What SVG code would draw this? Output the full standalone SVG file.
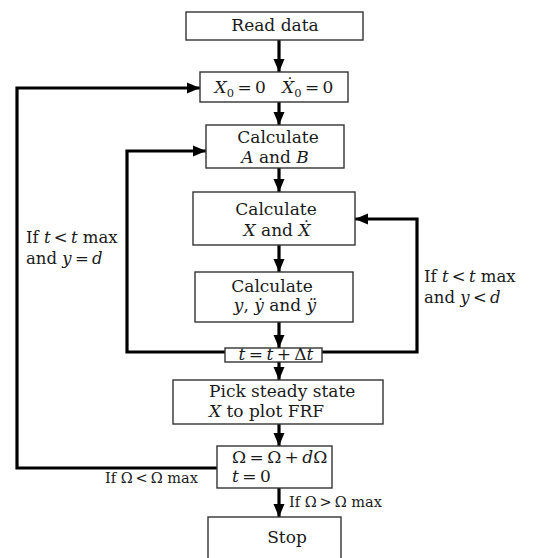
<svg xmlns="http://www.w3.org/2000/svg" width="542" height="558" viewBox="0 0 542 558">
<defs>
<marker id="ah" markerUnits="userSpaceOnUse" markerWidth="14" markerHeight="14" viewBox="0 0 14 14" refX="13" refY="7" orient="auto">
<path d="M0,1.5 L13,7 L0,12.5 Z" fill="#000"/>
</marker>
<style>
.box{fill:#fff;stroke:#333;stroke-width:1.4}
.c{fill:none;stroke:#000;stroke-width:3.2;stroke-linejoin:miter}
.a{marker-end:url(#ah)}
text{font-family:"DejaVu Serif","Liberation Serif",serif;font-size:17px;fill:#1a1a1a}
.m{text-anchor:middle}
.i{font-style:italic}
.lab{font-size:16.5px}
.sm{font-size:14.5px}
.sub{font-size:11.5px}
</style>
</defs>
<rect width="542" height="558" fill="#fff"/>
<g id="connectors">
<path class="c a" d="M279,40 V72"/>
<path class="c a" d="M279,102 V125"/>
<path class="c a" d="M279,168 V192"/>
<path class="c a" d="M279,245 V272"/>
<path class="c a" d="M279,322 V348"/>
<path class="c a" d="M279,362 V380"/>
<path class="c a" d="M279,424 V446"/>
<path class="c a" d="M279,488 V517"/>
<path class="c a" d="M217,468 H17 V88 H200"/>
<path class="c a" d="M225,352 H127 V151 H206"/>
<path class="c a" d="M322,352 H417 V219 H355"/>
</g>
<g id="read">
<rect class="box" x="186" y="12" width="177" height="28"/>
<text class="m" x="275" y="31">Read data</text>
</g>
<g id="init">
<rect class="box" x="200" y="72" width="148" height="30"/>
<text class="m" x="274" y="93"><tspan class="i">X</tspan><tspan class="sub" dy="4">0</tspan><tspan dy="-4">&#8201;=&#8201;0&#160;&#160;&#160;</tspan><tspan class="i">Ẋ</tspan><tspan class="sub" dy="4">0</tspan><tspan dy="-4">&#8201;=&#8201;0</tspan></text>
</g>
<g id="calcAB">
<rect class="box" x="206" y="125" width="138" height="43"/>
<text class="m" x="278" y="143">Calculate</text>
<text class="m" x="275" y="163"><tspan class="i">A</tspan> and <tspan class="i">B</tspan></text>
</g>
<g id="calcX">
<rect class="box" x="193" y="192" width="162" height="53"/>
<text class="m" x="276" y="215">Calculate</text>
<text class="m" x="277" y="236"><tspan class="i">X</tspan> and <tspan class="i">Ẋ</tspan></text>
</g>
<g id="calcY">
<rect class="box" x="195" y="272" width="158" height="50"/>
<text class="m" x="272" y="292">Calculate</text>
<text class="m" x="275" y="311"><tspan class="i">y</tspan>, <tspan class="i">ẏ</tspan> and <tspan class="i">ÿ</tspan></text>
</g>
<g id="tstep">
<rect class="box" x="225" y="348" width="97" height="14"/>
<text class="m" x="276" y="360"><tspan class="i">t</tspan>&#8201;=&#8201;<tspan class="i">t</tspan>&#8201;+&#8201;Δ<tspan class="i">t</tspan></text>
</g>
<g id="pick">
<rect class="box" x="173" y="380" width="210" height="44"/>
<text x="209" y="397">Pick steady state</text>
<text x="209" y="417"><tspan class="i">X</tspan> to plot FRF</text>
</g>
<g id="omega">
<rect class="box" x="217" y="446" width="115" height="42"/>
<text x="232" y="463">Ω&#8201;=&#8201;Ω&#8201;+&#8201;<tspan class="i">d</tspan>Ω</text>
<text x="232" y="482"><tspan class="i">t</tspan>&#8201;=&#8201;0</text>
</g>
<g id="stop">
<rect class="box" x="208" y="517" width="133" height="50"/>
<text class="m" x="287" y="543">Stop</text>
</g>
<g id="labels">
<text class="lab" x="26" y="243">If <tspan class="i">t</tspan>&#8201;&lt;&#8201;<tspan class="i">t</tspan> max</text>
<text class="lab" x="26" y="264">and <tspan class="i">y</tspan>&#8201;=&#8201;<tspan class="i">d</tspan></text>
<text class="lab" x="424" y="282">If <tspan class="i">t</tspan>&#8201;&lt;&#8201;<tspan class="i">t</tspan> max</text>
<text class="lab" x="424" y="303">and <tspan class="i">y</tspan>&#8201;&lt;&#8201;<tspan class="i">d</tspan></text>
<text class="sm" x="105" y="483">If Ω&#8201;&lt;&#8201;Ω max</text>
<text class="sm" x="289" y="507">If Ω&#8201;&gt;&#8201;Ω max</text>
</g>
</svg>
